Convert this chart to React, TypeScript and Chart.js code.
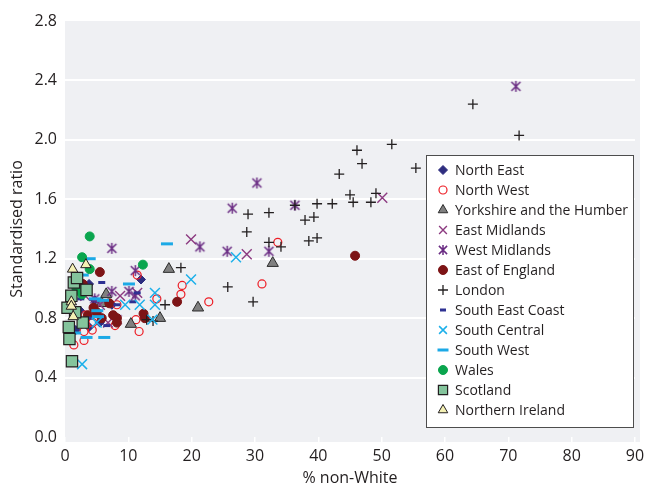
import React, { useEffect, useRef } from "react";
import { Chart, registerables } from "chart.js";
import { drawPoint } from "chart.js/helpers";

Chart.register(...registerables);

const xTicks = [0, 10, 20, 30, 40, 50, 60, 70, 80, 90];
const yTicks = [0, 0.4, 0.8, 1.2, 1.6, 2.0, 2.4, 2.8];

const northEast = [[12.0, 1.06], [3.8, 1.03], [1.7, 0.72], [5.5, 0.77], [7.4, 0.89], [2.4, 0.85], [4.7, 0.92], [3.8, 0.74]];
const northWest = [[33.6, 1.31], [31.1, 1.03], [18.5, 1.02], [18.3, 0.96], [22.7, 0.91], [11.4, 1.09], [8.2, 0.89], [14.5, 0.93], [7.9, 0.75], [11.7, 0.71], [11.2, 0.79], [1.4, 0.62], [3.0, 0.65], [3.0, 0.71], [4.3, 0.72], [4.4, 0.77], [3.2, 0.82]];
const yorkshire = [[16.4, 1.13], [32.8, 1.17], [21.0, 0.87], [15.0, 0.80], [10.4, 0.76], [6.5, 0.96], [5.8, 0.90]];
const eastMidlands = [[50.1, 1.61], [28.7, 1.23], [19.9, 1.33], [8.7, 0.95], [11.4, 0.97], [5.5, 0.89], [3.2, 0.95], [6.8, 0.77]];
const westMidlands = [[71.2, 2.36], [30.3, 1.71], [36.3, 1.56], [32.2, 1.25], [26.4, 1.54], [21.3, 1.28], [25.6, 1.25], [7.4, 1.27], [11.1, 1.12], [7.4, 0.98], [10.1, 0.98], [11.1, 0.95], [8.2, 0.79], [4.7, 0.93]];
const eastOfEngland = [[45.8, 1.22], [17.7, 0.91], [5.5, 1.11], [12.4, 0.83], [8.2, 0.80], [5.8, 0.80], [4.5, 0.87], [2.8, 1.03], [3.6, 0.82], [7.6, 0.82], [8.2, 0.77], [12.6, 0.80], [5.0, 0.84], [7.0, 0.90]];
const london = [[64.4, 2.24], [71.7, 2.03], [51.6, 1.97], [46.1, 1.93], [46.9, 1.84], [55.4, 1.81], [43.3, 1.77], [45.0, 1.63], [45.5, 1.58], [49.1, 1.64], [48.3, 1.58], [39.8, 1.57], [42.2, 1.57], [36.3, 1.56], [37.9, 1.46], [39.3, 1.48], [38.5, 1.32], [39.8, 1.34], [32.2, 1.51], [28.9, 1.50], [28.7, 1.38], [32.2, 1.31], [34.1, 1.28], [18.3, 1.14], [25.7, 1.01], [29.7, 0.91], [15.8, 0.89], [13.9, 0.78], [12.9, 0.79]];
const southEastCoast = [[5.8, 1.04], [6.6, 0.75], [8.2, 0.89], [10.7, 0.91], [11.4, 0.97], [2.5, 0.93], [4.0, 0.80]];
const southCentral = [[19.9, 1.06], [27.0, 1.21], [14.2, 0.97], [14.2, 0.89], [13.8, 0.79], [11.8, 0.89], [9.5, 0.89], [5.0, 0.77], [2.7, 0.49]];
const southWest = [[16.1, 1.30], [3.9, 1.20], [10.1, 1.03], [6.2, 0.67], [3.4, 0.67], [1.6, 0.70], [5.1, 0.85], [4.7, 0.93], [2.8, 1.09], [5.2, 0.81], [6.0, 0.92]];
const wales = [[3.9, 1.35], [2.7, 1.21], [3.9, 1.13], [12.3, 1.16], [1.8, 1.00], [2.7, 0.96], [2.2, 0.99]];
const scotland = [[1.1, 0.51], [0.7, 0.66], [0.6, 0.74], [2.8, 0.77], [1.6, 0.84], [0.4, 0.87], [1.0, 0.95], [3.4, 0.99], [1.4, 1.04], [1.9, 1.07]];
const northernIreland = [[1.2, 1.13], [3.3, 1.16], [1.0, 0.91], [1.3, 0.81], [1.0, 0.88]];

const FONT = "'Open Sans', 'Noto Sans', sans-serif";
const TEXT = "#231f20";

type Series = {
  label: string;
  data: number[][];
  pointStyle: any;
  radius: number;
  bg: string;
  border: string;
  bw: number;
};

const series: Series[] = [
  { label: "North East", data: northEast, pointStyle: "rectRot", radius: 4.5, bg: "#2e2d7f", border: "#2e2d7f", bw: 1 },
  { label: "North West", data: northWest, pointStyle: "circle", radius: 4, bg: "rgba(0,0,0,0)", border: "#ed1c24", bw: 1.2 },
  { label: "Yorkshire and the Humber", data: yorkshire, pointStyle: "triangle", radius: 6.5, bg: "#808080", border: "#2b2b2b", bw: 1 },
  { label: "East Midlands", data: eastMidlands, pointStyle: "crossRot", radius: 7, bg: "#8c3a80", border: "#8c3a80", bw: 1.4 },
  { label: "West Midlands", data: westMidlands, pointStyle: "asterisk", radius: 5.5, bg: "#6a2c83", border: "#6a2c83", bw: 1.5 },
  { label: "East of England", data: eastOfEngland, pointStyle: "circle", radius: 4.5, bg: "#7d1416", border: "#7d1416", bw: 1 },
  { label: "London", data: london, pointStyle: "cross", radius: 5, bg: "#231f20", border: "#231f20", bw: 1.3 },
  { label: "South East Coast", data: southEastCoast, pointStyle: "line", radius: 3.5, bg: "#2e3192", border: "#2e3192", bw: 3 },
  { label: "South Central", data: southCentral, pointStyle: "crossRot", radius: 7, bg: "#1cb0ea", border: "#1cb0ea", bw: 1.5 },
  { label: "South West", data: southWest, pointStyle: "line", radius: 6, bg: "#1ca9e6", border: "#1ca9e6", bw: 3 },
  { label: "Wales", data: wales, pointStyle: "circle", radius: 4.5, bg: "#0aa54e", border: "#0aa54e", bw: 1 },
  { label: "Scotland", data: scotland, pointStyle: "rect", radius: 8, bg: "#84c49c", border: "#231f20", bw: 1.2 },
  { label: "Northern Ireland", data: northernIreland, pointStyle: "triangle", radius: 6, bg: "#f4f1b4", border: "#231f20", bw: 1 },
];

function makeAsterisk(color: string, half: number, lw: number) {
  const size = Math.ceil(half * 2 + 2);
  const c = document.createElement("canvas");
  c.width = size;
  c.height = size;
  const g = c.getContext("2d")!;
  const m = size / 2;
  g.strokeStyle = color;
  g.lineWidth = lw;
  g.lineCap = "butt";
  g.beginPath();
  const d = half * 0.82;
  g.moveTo(m - d, m - d);
  g.lineTo(m + d, m + d);
  g.moveTo(m + d, m - d);
  g.lineTo(m - d, m + d);
  g.moveTo(m, m - half);
  g.lineTo(m, m + half);
  g.stroke();
  return c;
}

const bgPlugin = {
  id: "plotBg",
  beforeDraw(chart: any) {
    const { ctx, chartArea } = chart;
    ctx.save();
    ctx.fillStyle = "#eff0f3";
    ctx.fillRect(chartArea.left, chartArea.top, chartArea.right - chartArea.left + 5, chartArea.bottom - chartArea.top + 5);
    ctx.restore();
  },
};

export default function App() {
  const ref = useRef<HTMLCanvasElement | null>(null);
  useEffect(() => {
    document.body.style.margin = "0";
    const canvas = ref.current;
    if (!canvas) return;
    const styleOf = (s: Series) =>
      s.pointStyle === "asterisk" ? makeAsterisk(s.border, s.radius, s.bw) : s.pointStyle;

    const legendPlugin = {
      id: "boxLegend",
      afterDraw(chart: any) {
        const { ctx, chartArea } = chart;
        const right = chartArea.right - 2;
        const bottom = chartArea.bottom - 10;
        const w = 207;
        const h = 272;
        const left = right - w;
        const top = bottom - h;
        ctx.save();
        ctx.fillStyle = "#ffffff";
        ctx.fillRect(left, top, w, h);
        ctx.strokeStyle = "#4d4d4d";
        ctx.lineWidth = 1;
        ctx.strokeRect(left + 0.5, top + 0.5, w, h);
        ctx.font = `14px ${FONT}`;
        ctx.textBaseline = "middle";
        ctx.textAlign = "left";
        series.forEach((s, i) => {
          const y = top + 15 + i * 20;
          ctx.fillStyle = s.bg;
          ctx.strokeStyle = s.border;
          ctx.lineWidth = s.bw;
          const r = s.pointStyle === "rect" ? 6.5 : s.pointStyle === "triangle" ? 5.5 : s.pointStyle === "line" ? (s.radius > 4 ? 5.5 : 3) : Math.min(s.radius, 5.5);
          const ps = s.pointStyle === "asterisk" ? makeAsterisk(s.border, 5, s.bw) : s.pointStyle;
          drawPoint(ctx, { pointStyle: ps, radius: r, rotation: 0, borderWidth: s.bw }, left + 17, y);
          ctx.fillStyle = TEXT;
          ctx.fillText(s.label, left + 29, y + 1);
        });
        ctx.restore();
      },
    };

    const chart = new Chart(canvas, {
      type: "scatter",
      data: {
        datasets: series.map((s, i) => ({
          label: s.label,
          data: s.data.map(([x, y]) => ({ x, y })),
          order: series.length - i,
          pointStyle: styleOf(s),
          pointRadius: s.radius,
          pointBackgroundColor: s.bg,
          pointBorderColor: s.border,
          pointBorderWidth: s.bw,
          backgroundColor: s.bg,
          borderColor: s.border,
          clip: false as any,
        })),
      },
      options: {
        responsive: false,
        animation: false,
        devicePixelRatio: 1,
        layout: { padding: { top: 21, right: 18, left: 0, bottom: 0 } },
        plugins: { legend: { display: false }, tooltip: { enabled: false } },
        scales: {
          x: {
            type: "linear",
            min: 0,
            max: 90,
            afterBuildTicks: (s: any) => { s.ticks = xTicks.map((v) => ({ value: v })); },
            afterFit: (s: any) => { s.height = 51; },
            border: { display: false },
            grid: { drawOnChartArea: false, drawTicks: true, tickLength: 5, color: "#ffffff", lineWidth: 1.5 },
            ticks: { padding: 5, color: TEXT, font: { family: FONT, size: 16 }, maxRotation: 0 },
            title: { display: true, text: "% non-White", color: TEXT, font: { family: FONT, size: 16 }, padding: 0 },
          },
          y: {
            type: "linear",
            min: 0,
            max: 2.8,
            afterBuildTicks: (s: any) => { s.ticks = yTicks.map((v) => ({ value: v })); },
            afterFit: (s: any) => { s.width = 65; },
            border: { display: false },
            grid: { color: (c: any) => (c.tick && c.tick.value > 0 && c.tick.value < 2.8 ? "#ffffff" : "rgba(0,0,0,0)"), lineWidth: 2, drawTicks: false },
            ticks: { padding: 8, color: TEXT, font: { family: FONT, size: 16 }, callback: (v: any) => Number(v).toFixed(1) },
            title: { display: true, text: "Standardised ratio", color: TEXT, font: { family: FONT, size: 16 }, padding: { top: 8, bottom: 0 } },
          },
        },
      },
      plugins: [bgPlugin, legendPlugin],
    });
    return () => chart.destroy();
  }, []);
  return (
    <div style={{ width: 653, height: 488 }}>
      <canvas ref={ref} width={653} height={488} style={{ display: "block" }} />
    </div>
  );
}
